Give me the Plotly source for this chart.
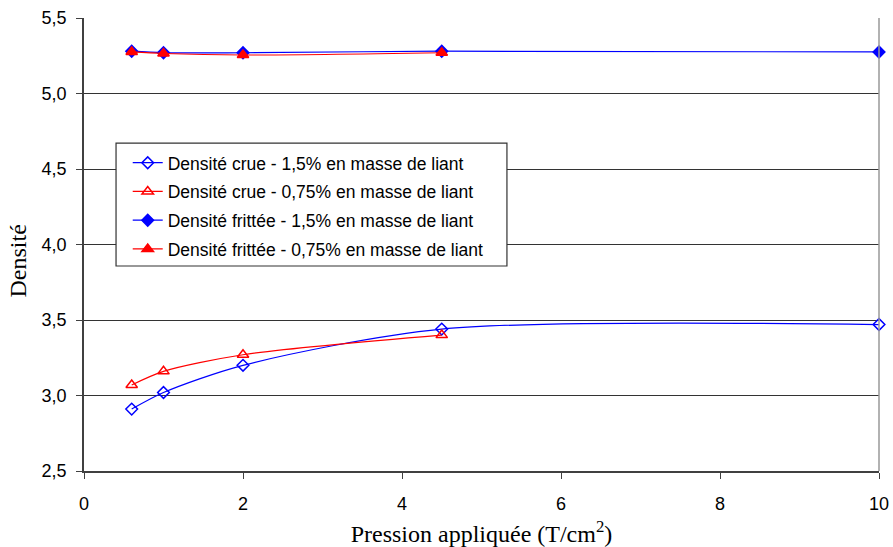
import plotly.graph_objects as go

pression = [0.6, 1, 2, 4.5, 10]
pression_075 = [0.6, 1, 2, 4.5]

crue_15 = [2.91, 3.02, 3.20, 3.44, 3.47]
crue_075 = [3.07, 3.16, 3.27, 3.40]
frittee_15 = [5.28, 5.27, 5.27, 5.28, 5.275]
frittee_075 = [5.275, 5.265, 5.255, 5.27]

names = [
    "Densité crue - 1,5% en masse de liant",
    "Densité crue - 0,75% en masse de liant",
    "Densité frittée - 1,5% en masse de liant",
    "Densité frittée - 0,75% en masse de liant",
]

BLUE = "#0000FF"
RED = "#FF0000"

fig = go.Figure()
series = [
    (pression, crue_15, BLUE, "diamond-open", 9),
    (pression_075, crue_075, RED, "triangle-up-open", 10),
    (pression, frittee_15, BLUE, "diamond", 9),
    (pression_075, frittee_075, RED, "triangle-up", 10),
]
for i, (xs, ys, col, sym, sz) in enumerate(series):
    fig.add_trace(go.Scatter(
        x=xs, y=ys, name=names[i], mode="lines+markers",
        line=dict(color=col, width=1.2, shape="spline", smoothing=0.8),
        marker=dict(symbol=sym, size=sz, color=col, line=dict(color=col, width=1.5)),
        legendgroup=f"g{i}", cliponaxis=False,
    ))

fig.update_layout(
    width=893, height=547,
    margin=dict(l=84, r=14, t=18, b=76),
    paper_bgcolor="white", plot_bgcolor="white",
    separators=", ",
    font=dict(family="Liberation Sans, Arial", color="black", size=18),
    showlegend=True,
    legend=dict(
        x=0.055, y=0.72, xanchor="left", yanchor="top",
        borderwidth=0, bgcolor="rgba(0,0,0,0)",
        font=dict(size=17.5, family="Liberation Sans, Arial"),
        tracegroupgap=3, traceorder="grouped",
    ),
    xaxis=dict(
        range=[0, 10], tickvals=[0, 2, 4, 6, 8, 10], ticktext=["0", "2", "4", "6", "8", "10"],
        showgrid=False, zeroline=False, automargin=False,
        showline=True, linecolor="#404040", linewidth=1.5, mirror=False,
        ticks="outside", ticklen=6, tickcolor="#404040", ticklabelstandoff=10,
        title=dict(text="Pression appliquée (T/cm<sup>2</sup>)",
                   font=dict(family="Liberation Serif, Times New Roman", size=24), standoff=18),
    ),
    yaxis=dict(
        range=[2.5, 5.5], dtick=0.5, tickformat=".1f", automargin=False,
        showgrid=True, gridcolor="#333333", gridwidth=1, zeroline=False,
        showline=True, linecolor="#404040", linewidth=1.5,
        ticks="outside", ticklen=6, tickcolor="#404040", ticklabelstandoff=6,
    ),
    annotations=[dict(
        text="Densité", textangle=-90, xref="paper", yref="paper",
        x=-0.0818, y=0.4647, xanchor="center", yanchor="middle", showarrow=False,
        font=dict(family="Liberation Serif, Times New Roman", size=24, color="black"),
    )],
    shapes=[
        dict(type="line", xref="paper", yref="paper", x0=1, x1=1, y0=0, y1=1,
             line=dict(color="#999999", width=1.5)),
        dict(type="rect", xref="paper", yref="paper", x0=0.0403, x1=0.532, y0=0.4525, y1=0.724,
             fillcolor="white", line=dict(color="#333333", width=1.2), layer="above"),
    ],
)

fig.write_html(
    "out.html",
    config={"displayModeBar": False},
    post_script="document.body.style.margin='0';document.body.style.overflow='hidden';",
)
